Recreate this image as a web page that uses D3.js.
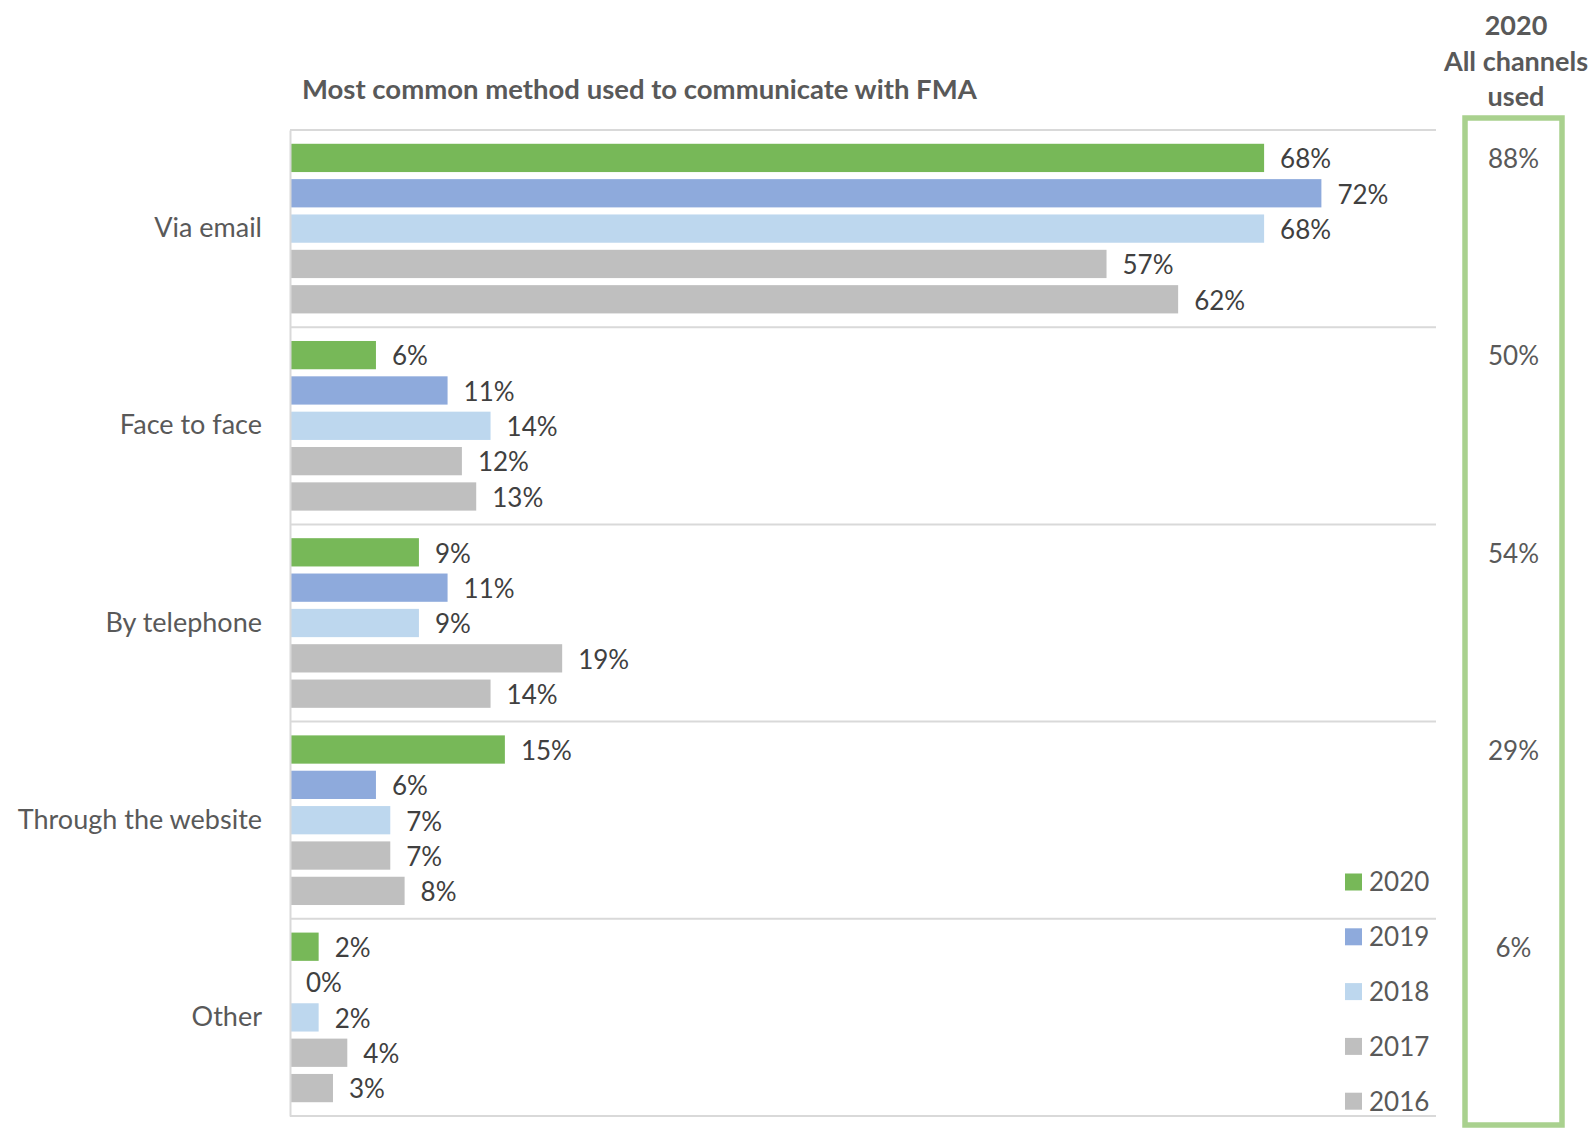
<!DOCTYPE html>
<html>
<head>
<meta charset="utf-8">
<script src="https://cdn.jsdelivr.net/npm/d3@7"></script>
<style>
  html, body { margin: 0; padding: 0; background: #ffffff; }
  svg { display: block; font-family: Lato, "Open Sans", sans-serif; }
</style>
</head>
<body>
<svg id="chart" width="1593" height="1130"></svg>
<script>
// Survey categories (top to bottom) and survey years (bar order inside each group)
const categories = ["Via email", "Face to face", "By telephone", "Through the website", "Other"];
const years = ["2020", "2019", "2018", "2017", "2016"];

// Share of respondents naming each channel as their most common method (%)
const values2020 = [68, 6, 9, 15, 2];
const values2019 = [72, 11, 11, 6, 0];
const values2018 = [68, 14, 9, 7, 2];
const values2017 = [57, 12, 19, 7, 4];
const values2016 = [62, 13, 14, 8, 3];

// 2020: every channel used (%)
const allChannels2020 = [88, 50, 54, 29, 6];

const seriesColors = ["#77b858", "#8eaadc", "#bdd7ee", "#bfbfbf", "#bfbfbf"];

const seriesValues = [values2020, values2019, values2018, values2017, values2016];
const rows = [];
categories.forEach((cat, ci) => {
  years.forEach((yr, yi) => {
    rows.push({ category: cat, year: yr, value: seriesValues[yi][ci], color: seriesColors[yi] });
  });
});

const svg = d3.select("#chart");

const x = d3.scaleLinear().domain([0, 80]).range([290, 1436]);
const y0 = d3.scaleBand().domain(categories).range([130, 1116]).padding(0);
const y1 = d3.scaleBand().domain(years).range([0, y0.bandwidth()])
  .paddingInner(0.2).paddingOuter(0.39);

// Title
svg.append("text")
  .attr("x", 302).attr("y", 89)
  .attr("dy", "0.35em")
  .attr("font-size", 27.5).attr("font-weight", 700)
  .attr("fill", "#595959")
  .text("Most common method used to communicate with FMA");

// Horizontal separators between category groups
const boundaries = categories.map(c => y0(c)).concat([y0.range()[1]]);
svg.append("g").selectAll("line")
  .data(boundaries)
  .join("line")
  .attr("x1", x.range()[0]).attr("x2", x.range()[1])
  .attr("y1", d => d).attr("y2", d => d)
  .attr("stroke", "#d9d9d9").attr("stroke-width", 2);

// Bars
const groups = svg.append("g").selectAll("g")
  .data(categories)
  .join("g")
  .attr("transform", c => `translate(0,${y0(c)})`);

groups.selectAll("rect")
  .data(c => rows.filter(r => r.category === c))
  .join("rect")
  .attr("x", x(0))
  .attr("y", d => y1(d.year))
  .attr("width", d => x(d.value) - x(0))
  .attr("height", y1.bandwidth())
  .attr("fill", d => d.color);

// Value labels
groups.selectAll("text")
  .data(c => rows.filter(r => r.category === c))
  .join("text")
  .attr("x", d => x(d.value) + 16)
  .attr("y", d => y1(d.year) + y1.bandwidth() / 2 + 1)
  .attr("dy", "0.36em")
  .attr("font-size", 26)
  .attr("fill", "#404040")
  .text(d => d.value + "%");

// Category axis
const yAxis = svg.append("g")
  .attr("transform", `translate(${x(0)},0)`)
  .call(d3.axisLeft(y0).tickSize(0).tickPadding(28));
yAxis.select(".domain").attr("stroke", "#d9d9d9").attr("stroke-width", 2);
yAxis.selectAll(".tick text")
  .attr("font-size", 27)
  .attr("font-family", "Lato, 'Open Sans', sans-serif")
  .attr("fill", "#595959");

// Legend
const legend = svg.append("g").selectAll("g")
  .data(years)
  .join("g")
  .attr("transform", (d, i) => `translate(1345,${882 + i * 54.8})`);
legend.append("rect")
  .attr("x", 0).attr("y", -8.5)
  .attr("width", 17).attr("height", 17)
  .attr("fill", (d, i) => seriesColors[i]);
legend.append("text")
  .attr("x", 24).attr("y", 0)
  .attr("dy", "0.36em")
  .attr("font-size", 26)
  .attr("fill", "#595959")
  .text(d => d);

// "All channels used" panel
const header = ["2020", "All channels", "used"];
svg.append("g").selectAll("text")
  .data(header)
  .join("text")
  .attr("x", 1516)
  .attr("y", (d, i) => 25.5 + i * 35.5)
  .attr("dy", "0.36em")
  .attr("text-anchor", "middle")
  .attr("font-size", 27).attr("font-weight", 700)
  .attr("fill", "#595959")
  .text(d => d);

svg.append("rect")
  .attr("x", 1465).attr("y", 118)
  .attr("width", 97).attr("height", 1007)
  .attr("fill", "none")
  .attr("stroke", "#a9d18e").attr("stroke-width", 5.5);

svg.append("g").selectAll("text")
  .data(categories)
  .join("text")
  .attr("x", 1513.5)
  .attr("y", (c, i) => y0(c) + y1("2020") + y1.bandwidth() / 2 + 1)
  .attr("dy", "0.36em")
  .attr("text-anchor", "middle")
  .attr("font-size", 26)
  .attr("fill", "#595959")
  .text((c, i) => allChannels2020[i] + "%");
</script>
</body>
</html>
